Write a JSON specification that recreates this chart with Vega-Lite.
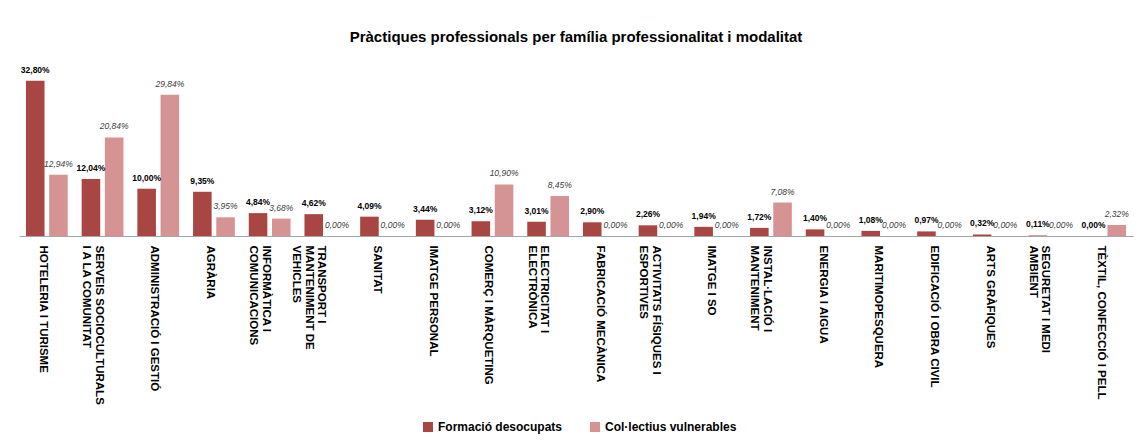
{
  "$schema": "https://vega.github.io/schema/vega-lite/v6.json",
  "width": 1114,
  "height": 175,
  "padding": {"left": 19, "top": 30, "right": 7, "bottom": 5},
  "background": "white",
  "title": {
    "text": "Pràctiques professionals per família professionalitat i modalitat",
    "fontSize": 15,
    "fontWeight": "bold",
    "font": "Liberation Sans, Arial, sans-serif",
    "color": "#000000",
    "anchor": "middle",
    "offset": 16
  },
  "data": {
    "values": [
      {"familia": "HOTELERIA I TURISME", "serie": "Formació desocupats", "valor": 0.3280},
      {"familia": "HOTELERIA I TURISME", "serie": "Col·lectius vulnerables", "valor": 0.1294},
      {"familia": "SERVEIS SOCIOCULTURALS|I A LA COMUNITAT", "serie": "Formació desocupats", "valor": 0.1204},
      {"familia": "SERVEIS SOCIOCULTURALS|I A LA COMUNITAT", "serie": "Col·lectius vulnerables", "valor": 0.2084},
      {"familia": "ADMINISTRACIÓ I GESTIÓ", "serie": "Formació desocupats", "valor": 0.1000},
      {"familia": "ADMINISTRACIÓ I GESTIÓ", "serie": "Col·lectius vulnerables", "valor": 0.2984},
      {"familia": "AGRÀRIA", "serie": "Formació desocupats", "valor": 0.0935},
      {"familia": "AGRÀRIA", "serie": "Col·lectius vulnerables", "valor": 0.0395},
      {"familia": "INFORMÀTICA I|COMUNICACIONS", "serie": "Formació desocupats", "valor": 0.0484},
      {"familia": "INFORMÀTICA I|COMUNICACIONS", "serie": "Col·lectius vulnerables", "valor": 0.0368},
      {"familia": "TRANSPORT I|MANTENIMENT DE|VEHICLES", "serie": "Formació desocupats", "valor": 0.0462},
      {"familia": "TRANSPORT I|MANTENIMENT DE|VEHICLES", "serie": "Col·lectius vulnerables", "valor": 0.0},
      {"familia": "SANITAT", "serie": "Formació desocupats", "valor": 0.0409},
      {"familia": "SANITAT", "serie": "Col·lectius vulnerables", "valor": 0.0},
      {"familia": "IMATGE PERSONAL", "serie": "Formació desocupats", "valor": 0.0344},
      {"familia": "IMATGE PERSONAL", "serie": "Col·lectius vulnerables", "valor": 0.0},
      {"familia": "COMERÇ I MÀRQUETING", "serie": "Formació desocupats", "valor": 0.0312},
      {"familia": "COMERÇ I MÀRQUETING", "serie": "Col·lectius vulnerables", "valor": 0.1090},
      {"familia": "ELECTRICITAT I|ELECTRÒNICA", "serie": "Formació desocupats", "valor": 0.0301},
      {"familia": "ELECTRICITAT I|ELECTRÒNICA", "serie": "Col·lectius vulnerables", "valor": 0.0845},
      {"familia": "FABRICACIÓ MECÀNICA", "serie": "Formació desocupats", "valor": 0.0290},
      {"familia": "FABRICACIÓ MECÀNICA", "serie": "Col·lectius vulnerables", "valor": 0.0},
      {"familia": "ACTIVITATS FÍSIQUES I|ESPORTIVES", "serie": "Formació desocupats", "valor": 0.0226},
      {"familia": "ACTIVITATS FÍSIQUES I|ESPORTIVES", "serie": "Col·lectius vulnerables", "valor": 0.0},
      {"familia": "IMATGE I SO", "serie": "Formació desocupats", "valor": 0.0194},
      {"familia": "IMATGE I SO", "serie": "Col·lectius vulnerables", "valor": 0.0},
      {"familia": "INSTAL·LACIÓ I|MANTENIMENT", "serie": "Formació desocupats", "valor": 0.0172},
      {"familia": "INSTAL·LACIÓ I|MANTENIMENT", "serie": "Col·lectius vulnerables", "valor": 0.0708},
      {"familia": "ENERGIA I AIGUA", "serie": "Formació desocupats", "valor": 0.0140},
      {"familia": "ENERGIA I AIGUA", "serie": "Col·lectius vulnerables", "valor": 0.0},
      {"familia": "MARITIMOPESQUERA", "serie": "Formació desocupats", "valor": 0.0108},
      {"familia": "MARITIMOPESQUERA", "serie": "Col·lectius vulnerables", "valor": 0.0},
      {"familia": "EDIFICACIÓ I OBRA CIVIL", "serie": "Formació desocupats", "valor": 0.0097},
      {"familia": "EDIFICACIÓ I OBRA CIVIL", "serie": "Col·lectius vulnerables", "valor": 0.0},
      {"familia": "ARTS GRÀFIQUES", "serie": "Formació desocupats", "valor": 0.0032},
      {"familia": "ARTS GRÀFIQUES", "serie": "Col·lectius vulnerables", "valor": 0.0},
      {"familia": "SEGURETAT I MEDI|AMBIENT", "serie": "Formació desocupats", "valor": 0.0011},
      {"familia": "SEGURETAT I MEDI|AMBIENT", "serie": "Col·lectius vulnerables", "valor": 0.0},
      {"familia": "TÈXTIL, CONFECCIÓ I PELL", "serie": "Formació desocupats", "valor": 0.0},
      {"familia": "TÈXTIL, CONFECCIÓ I PELL", "serie": "Col·lectius vulnerables", "valor": 0.0232}
    ]
  },
  "encoding": {
    "x": {
      "field": "familia",
      "type": "nominal",
      "sort": null,
      "title": null,
      "scale": {"paddingInner": 0.25, "paddingOuter": 0.125},
      "axis": {
        "labelAngle": 90,
        "labelAlign": "left",
        "labelBaseline": "middle",
        "labelExpr": "split(datum.label, '|')",
        "labelFont": "Liberation Sans, Arial, sans-serif",
        "labelFontSize": 11.5,
        "labelFontWeight": "bold",
        "labelColor": "#000000",
        "labelLineHeight": 12.5,
        "labelLimit": 0,
        "labelPadding": 9,
        "labelOffset": -4,
        "ticks": false,
        "domainColor": "#a6a6a6",
        "domainWidth": 1.2
      }
    },
    "xOffset": {
      "field": "serie",
      "type": "nominal",
      "sort": ["Formació desocupats", "Col·lectius vulnerables"],
      "scale": {"paddingInner": 0.2, "paddingOuter": 0}
    },
    "y": {
      "field": "valor",
      "type": "quantitative",
      "axis": null,
      "scale": {"domain": [0, 0.37], "nice": false}
    }
  },
  "layer": [
    {
      "mark": {"type": "bar"},
      "encoding": {
        "color": {
          "field": "serie",
          "type": "nominal",
          "sort": ["Formació desocupats", "Col·lectius vulnerables"],
          "scale": {
            "domain": ["Formació desocupats", "Col·lectius vulnerables"],
            "range": ["#A84644", "#D69394"]
          },
          "legend": {
            "title": null,
            "orient": "none",
            "legendX": 403,
            "legendY": 360,
            "direction": "horizontal",
            "symbolType": "square",
            "symbolSize": 100,
            "symbolStrokeWidth": 0,
            "labelFont": "Liberation Sans, Arial, sans-serif",
            "labelFontSize": 12,
            "labelFontWeight": "bold",
            "labelColor": "#000000",
            "labelLimit": 0,
            "columnPadding": 26
          }
        }
      }
    },
    {
      "transform": [{"filter": "datum.serie === 'Formació desocupats'"}],
      "mark": {
        "type": "text",
        "baseline": "bottom",
        "dy": -6,
        "font": "Liberation Sans, Arial, sans-serif",
        "fontSize": 8.5,
        "fontWeight": "bold",
        "color": "#000000"
      },
      "encoding": {
        "text": {"field": "valor", "type": "quantitative", "format": ".2%"}
      }
    },
    {
      "transform": [{"filter": "datum.serie === 'Col·lectius vulnerables'"}],
      "mark": {
        "type": "text",
        "baseline": "bottom",
        "dy": -6,
        "font": "Liberation Sans, Arial, sans-serif",
        "fontSize": 8.5,
        "fontStyle": "italic",
        "color": "#404040"
      },
      "encoding": {
        "text": {"field": "valor", "type": "quantitative", "format": ".2%"}
      }
    }
  ],
  "config": {
    "locale": {
      "number": {"decimal": ",", "thousands": ".", "grouping": [3], "currency": ["", " €"]}
    },
    "view": {"stroke": null},
    "axis": {"grid": false}
  }
}
